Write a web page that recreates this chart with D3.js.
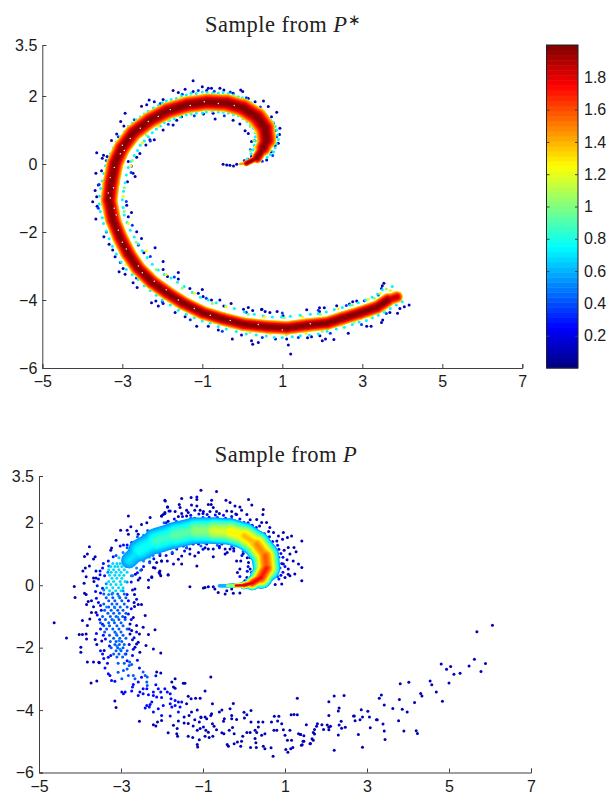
<!DOCTYPE html>
<html>
<head>
<meta charset="utf-8">
<title>Sample from P* and P</title>
<script src="https://cdnjs.cloudflare.com/ajax/libs/d3/7.8.5/d3.min.js"></script>
<style>
    html, body { margin: 0; padding: 0; background: #fff; }
    .tick text { font-family: "Liberation Sans", Arial, sans-serif; font-size: 16px; fill: #1a1a1a; }
    .tick line, .domain { stroke: #404040; }
    .title { font-family: "Liberation Serif", serif; font-size: 22.5px; letter-spacing: 0.5px; fill: #222; text-anchor: middle; }
</style>
</head>
<body>
<svg id="chart" width="608" height="794"></svg>
<script>
'use strict';

const X_TICKS = [-5, -3, -1, 1, 3, 5, 7];
const Y_TICKS = [3.5, 2, 0, -2, -4, -6];
const BAR_TICKS = [0.2, 0.4, 0.6, 0.8, 1, 1.2, 1.4, 1.6, 1.8];
const LEVELS = 64;

// The dense core of each sample is too thick to read dot by dot, so it is drawn
// as a ridge: position, peak density, half width (y units).
const topRidge = [[-.05,0],[.1,.02],[.37,.18],[.52,.47],[.61,.71],[.57,1.06],[.37,1.38],[.02,1.65],[-.38,1.79],[-.88,1.82],[-1.38,1.74],[-1.88,1.56],[-2.31,1.29],[-2.73,.91],[-3.01,.47],[-3.18,.03],[-3.28,-.56],[-3.33,-1.06],[-3.23,-1.65],[-3.06,-2.15],[-2.86,-2.62],[-2.61,-3.06],[-2.26,-3.47],[-1.88,-3.79],[-1.48,-4.09],[-.98,-4.38],[-.48,-4.56],[.02,-4.71],[.62,-4.79],[1.12,-4.82],[1.62,-4.74],[2.12,-4.68],[2.52,-4.53],[2.94,-4.38],[3.37,-4.21],[3.64,-4],[3.87,-3.91]];
const topPeak = [1.5,2,2.05,2.05,2.05,2.05,2.05,2.05,2.05,2.05,2.05,2.05,2.05,2.05,2.05,2.05,2.05,2.05,2.05,2.05,2.05,2.05,2.05,2.05,2.05,2.05,2.05,2.05,2.05,2.05,2.05,2.05,2.05,2.05,2.05,2.05,1.9];
const topWidth = [.03,.05,.12,.2,.27,.3,.29,.27,.26,.25,.25,.25,.25,.25,.25,.25,.25,.25,.23,.23,.23,.22,.22,.21,.21,.2,.2,.2,.2,.2,.2,.2,.2,.2,.2,.2,.14];
const topGaps = [[-3.2,-.1],[-3.3,-.4],[-3.22,-.7],[-3.3,-1],[-3.35,-.85],[-3.2,-1.3],[-3.15,-1.5],[-3.1,-1.95],[-3,-2.3],[-2.9,-2.5],[-2.6,-3],[-2.5,-3.2],[-2.2,-3.45],[-1.9,-3.7],[-1.6,-4],[-1.2,-4.25],[-.8,-4.45],[-.3,-4.6],[.4,-4.72],[1,-4.88],[1.7,-4.7],[-3.05,.3],[-3,.55],[-2.95,.4],[-2.8,.75],[-2.55,1.05],[-2.35,1.25],[-2.1,1.4],[-1.8,1.6],[-1.3,1.72],[-.95,1.83],[-.6,1.78],[-.2,1.72]];

const botRidge = [[-.6,-.02],[-.4,-.02],[-.2,-.01],[0,0],[.2,.07],[.42,.25],[.55,.55],[.52,.94],[.31,1.31],[.01,1.58],[-.34,1.72],[-.75,1.75],[-1.2,1.75],[-1.7,1.6],[-2.15,1.42],[-2.55,1.12],[-2.8,.8]];
const botPeak = [.65,1.2,1.9,1.85,1.85,1.8,1.72,1.6,1.5,1.4,1.3,1.2,1.05,.95,.88,.8,.72];
const botWidth = [.05,.06,.07,.09,.16,.3,.42,.45,.43,.42,.42,.42,.42,.42,.4,.32,.2];

// top panel dots, one array per colour band
const topLevels = [.12, .35, .72, 1, 1.25];
const topDeep = [[-1.23,2.45],[-1,2.27],[-.85,2.23],[-.89,2.16],[-.77,2.23],[-.56,2.23],[-.46,2.18],[-.23,2.08],[-.04,2.18],[.01,2.13],[-1.73,2.16],[-1.6,2.1],[-1.43,2.2],[-1.23,2.13],[-1.98,1.9],[-2.33,1.88],[-2.2,1.83],[-2.39,1.74],[-2.52,1.7],[-2.93,1.49],[-3.04,1.25],[-2.96,1.12],[-3.14,.88],[-3.27,.69],[-3.64,.33],[-3.47,.26],[-3.5,.17],[-3.38,.22],[-3.52,-.2],[-3.66,-.27],[-3.6,-.62],[-3.68,-.78],[-3.64,-.96],[.15,1.93],[.32,1.83],[.53,1.85],[.65,1.69],[.86,1.52],[.73,1.39],[.78,1.2],[.94,1.05],[.82,.98],[.93,.87],[.9,.61],[.82,.54],[.73,.36],[.61,.12],[-.97,1.47],[-.73,1.49],[-.68,1.32],[-1.52,1.39],[-1.64,1.29],[-1.73,1.15],[-1.98,1],[-2.2,.71],[-2.31,.71],[-2.41,.56],[-2.56,.31],[-2.64,.2],[-2.85,.07],[-2.77,-.06],[-2.73,-.27],[-2.68,-.37],[-2.87,-.52],[-.23,1.29],[-.06,1.18],[.07,.98],[.15,.9],[.23,.66],[.32,.51],[.23,.22],[.15,.14],[-.48,-.01],[-.39,-.03],[-.31,-.04],[-.22,-.06],[-.14,-.01],[-3.74,-1.11],[-3.66,-1.62],[-3.63,-1.24],[-3.46,-2.14],[-3.24,-2.53],[-3.33,-2.36],[-3.18,-2.73],[-3.08,-3.17],[-2.93,-3.24],[-2.98,-3.07],[-2.73,-3.49],[-2.63,-3.63],[-2.27,-4.08],[-2.16,-4.03],[-2.1,-4.18],[-1.98,-4.1],[-1.68,-4.37],[-1.43,-4.49],[-1.14,-4.77],[-.85,-4.77],[-.6,-4.88],[-.25,-5.15],[.23,-5.2],[.26,-5.3],[.4,-5.25],[-.02,-5.03],[-2.89,-1.21],[-2.77,-1.43],[-2.85,-1.55],[-2.64,-1.99],[-2.52,-2.19],[-2.18,-2.46],[-2.6,-2.38],[-2.46,-2.61],[-1.98,-2.87],[-1.98,-3.1],[-1.87,-3.31],[-1.6,-3.19],[-1.6,-3.38],[-1.31,-3.66],[-1,-3.69],[-1.1,-3.8],[-.98,-3.9],[-.77,-4],[-.56,-4],[-.28,-4.1],[-.46,-4.18],[.03,-4.27],[.15,-4.22],[.48,-4.28],[.26,-4.31],[.49,-4.27],[.57,-4.34],[.69,-4.37],[.87,-4.34],[1.02,-4.46],[1.61,-4.29],[1.93,-4.23],[2.05,-4.23],[1.93,-4.34],[2.36,-4.17],[2.68,-4.12],[2.76,-4.05],[2.86,-4.03],[3.54,-3.51],[3.5,-3.58],[3.48,-3.66],[3.51,-4.59],[3.48,-4.66],[3.22,-4.77],[3.11,-4.77],[2.65,-4.98],[2.29,-5.16],[2.08,-5.15],[2,-5.2],[1.94,-5.05],[1.73,-5.08],[1.63,-5.11],[1.15,-5.32],[1.21,-5.59],[1.11,-5.15],[.83,-5.15],[3.88,-4.39],[4.17,-4.15],[4.05,-4.2],[3.94,-4.25],[3.69,-4.37]];
const topBlue = [[-1.5,2.05],[-1.1,2.16],[-.7,2.14],[-.3,2.12],[.1,1.95],[.45,1.68],[.72,1.25],[.86,.8],[.76,.25],[.5,.08],[-2.05,1.78],[-2.7,1.3],[-3.1,.8],[-3.4,.1],[-3.58,-.6],[-3.6,-1.3],[-3.4,-2],[-3.05,-2.9],[-2.65,-3.35],[-2,-4.05],[-1.3,-4.58],[-.5,-4.92],[.5,-5.1],[1.4,-5.1],[2.2,-4.98],[2.98,-4.72],[3.6,-4.4],[-.45,1.42],[-1.2,1.42],[-1.85,1.17],[-2.3,.68],[-2.78,-.25],[-2.9,-1.1],[-2.75,-1.8],[-2.3,-2.72],[-1.7,-3.32],[-.9,-3.95],[.1,-4.36],[1,-4.38],[1.9,-4.3],[2.6,-4.16],[3.05,-4.02],[3.4,-3.85],[.3,.7],[.2,.42],[.05,.1]];
const topCyan = [[-.88,2.1],[-.6,2.08],[-.35,2.07],[-.1,1.98],[.12,1.88],[.3,1.7],[.52,1.5],[.7,1.3],[.82,1.1],[.88,.85],[.85,.6],[.78,.35],[.62,.2],[-1.15,2.07],[-1.4,2.03],[-1.65,1.93],[-1.9,1.85],[-2.1,1.72],[-2.35,1.55],[-2.55,1.38],[-2.75,1.2],[-2.95,.95],[-3.15,.65],[-3.3,.3],[-3.42,-.05],[-3.5,-.5],[-3.57,-.95],[-3.55,-1.4],[-3.47,-1.75],[-3.33,-2.2],[-3.15,-2.65],[-2.9,-3.1],[-2.6,-3.4],[-2.3,-3.72],[-2,-4],[-1.6,-4.3],[-1.2,-4.52],[-.8,-4.68],[-.4,-4.85],[.1,-5],[.6,-5.06],[1,-5.1],[1.45,-5.05],[1.9,-5],[2.35,-4.85],[2.75,-4.72],[3.1,-4.6],[3.4,-4.45],[3.7,-4.25],[4,-4.05],[-.9,1.53],[-.6,1.53],[-.35,1.5],[-.1,1.42],[.12,1.25],[.28,1.05],[.33,.8],[.3,.55],[.22,.3],[.12,.15],[-1.15,1.5],[-1.4,1.45],[-1.7,1.33],[-1.95,1.22],[-2.15,1.03],[-2.35,.8],[-2.55,.55],[-2.7,.25],[-2.85,-.1],[-2.93,-.55],[-3,-1.05],[-2.95,-1.5],[-2.8,-1.95],[-2.6,-2.35],[-2.38,-2.75],[-2.1,-3.12],[-1.78,-3.35],[-1.45,-3.6],[-1.05,-3.92],[-.65,-4.08],[-.2,-4.25],[.3,-4.42],[.75,-4.5],[1.2,-4.48],[1.7,-4.42],[2.1,-4.35],[2.5,-4.22],[2.9,-4.08],[3.25,-3.92],[3.5,-3.7],[3.75,-3.6],
[-.75,2.07],[-.48,2.1],[-.22,2.03],[0,1.95],[.22,1.8],[.4,1.62],[.62,1.42],[.78,1.22],[.86,1],[.9,.72],[.82,.48],[.7,.28],[-1,2.12],[-1.28,2.08],[-1.52,2],[-1.78,1.9],[-2,1.8],[-2.22,1.65],[-2.45,1.47],[-2.65,1.3],[-2.85,1.1],[-3.05,.8],[-3.22,.48],[-3.36,.12],[-3.46,-.28],[-3.54,-.72],[-3.58,-1.18],[-3.5,-1.58],[-3.4,-1.98],[-3.25,-2.42],[-3.03,-2.88],[-2.75,-3.25],[-2.45,-3.58],[-2.15,-3.86],[-1.8,-4.15],[-1.4,-4.42],[-1,-4.62],[-.6,-4.78],[-.15,-4.93],[.35,-5.03],[.8,-5.1],[1.25,-5.08],[1.68,-5.04],[2.12,-4.92],[2.55,-4.8],[2.92,-4.65],[3.25,-4.52],[3.55,-4.35],[3.85,-4.15],[-.75,1.55],[-.48,1.52],[-.22,1.45],[.02,1.33],[.2,1.15],[.33,.92],[.33,.68],[.27,.42],[-1,1.5],[-1.28,1.47],[-1.55,1.38],[-1.82,1.28],[-2.05,1.12],[-2.25,.92],[-2.45,.68],[-2.62,.4],[-2.78,.08],[-2.9,-.32],[-2.97,-.8],[-2.98,-1.28],[-2.88,-1.72],[-2.7,-2.15],[-2.5,-2.55],[-2.25,-2.95],[-1.95,-3.25],[-1.62,-3.48],[-1.25,-3.78],[-.85,-4],[-.42,-4.18],[.05,-4.35],[.52,-4.47],[.98,-4.5],[1.45,-4.45],[1.9,-4.4],[2.3,-4.28],[2.7,-4.15],[3.08,-4],[3.38,-3.82]];
const topGreen = [[-.7,2.05],[-.2,1.99],[.2,1.75],[.6,1.32],[.78,.85],[.7,.4],[-1.3,2],[-1.8,1.82],[-2.25,1.52],[-2.65,1.2],[-3.05,.72],[-3.28,.15],[-3.45,-.55],[-3.5,-1.2],[-3.3,-2],[-3.05,-2.6],[-2.75,-3.15],[-2.2,-3.68],[-1.55,-4.25],[-.7,-4.65],[.2,-4.95],[1.1,-5.03],[2,-4.92],[2.8,-4.65],[3.55,-4.3],[3.95,-4.02],[-.75,1.58],[-.25,1.5],[.2,1.1],[.28,.7],[.2,.38],[-1.3,1.5],[-1.85,1.28],[-2.4,.85],[-2.75,.1],[-2.95,-.7],[-2.95,-1.4],[-2.65,-2.3],[-2.15,-3.1],[-1.5,-3.65],[-.75,-4.1],[.15,-4.42],[1.05,-4.52],[1.95,-4.42],[2.75,-4.15],[3.3,-3.95],[3.6,-3.68]];
const topYellow = [[-1,2.04],[-.45,2.02],[0,1.88],[.42,1.5],[.72,1],[.72,.55],[-1.55,1.95],[-2.05,1.68],[-2.5,1.3],[-2.9,.9],[-3.2,.4],[-3.36,-.25],[-3.46,-.9],[-3.4,-1.65],[-3.18,-2.35],[-2.9,-2.95],[-2.45,-3.5],[-1.9,-3.98],[-1.2,-4.46],[-.3,-4.8],[.7,-4.99],[1.6,-4.98],[2.5,-4.76],[3.2,-4.5],[3.8,-3.78],[3.7,-3.72],[-1,1.58],[-.5,1.56],[.05,1.33],[.33,.95],[.32,.5],[-1.6,1.42],[-2.1,1.12],[-2.5,.62],[-2.78,-.05],[-2.98,-.95],[-2.85,-1.75],[-2.4,-2.55],[-1.9,-3.25],[-1.2,-3.8],[-.4,-4.2],[.55,-4.5],[1.5,-4.5],[2.4,-4.25],[3.15,-3.98],[3.45,-3.8]];
const topDots = [topDeep, topBlue, topCyan, topGreen, topYellow];

// bottom panel dots, one array per colour band
const botLevels = [.12, .28, .42, .52, .66, .82];
const botDeep = [[6.06,-1.28],[5.68,-1.49],[5.62,-2.37],[5.89,-2.51],[5.78,-2.76],[5.49,-2.59],[5.27,-2.82],[5.12,-2.85],[5.04,-2.6],[4.94,-2.69],[4.81,-2.52],[5,-3.13],[4.54,-3.07],[4.58,-3.19],[4.69,-3.42],[4.84,-3.72],[4.31,-3.47],[4.34,-3.55],[4.16,-3.76],[4.02,-3.11],[3.81,-3.16],[3.79,-3.66],[3.35,-3.52],[3.3,-3.62],[3.42,-3.84],[3.63,-3.95],[3.86,-3.97],[3.98,-4.06],[3.77,-4.34],[3.39,-4.45],[3.23,-4.31],[3.25,-4.31],[3.06,-4.22],[3.02,-4.04],[2.86,-3.99],[2.69,-4.19],[2.67,-4.19],[2.71,-4.34],[2.89,-4.22],[2.83,-4.31],[3.08,-4.57],[3.42,-4.67],[3.9,-4.67],[4.2,-4.66],[4.23,-4.75],[3.44,-4.94],[2.89,-5.19],[2.79,-4.78],[2.2,-5.29],[2.3,-4.8],[2.47,-4.55],[2.38,-4.58],[2.32,-4.48],[2.37,-4.36],[2.3,-4.03],[2.32,-3.93],[2.44,-3.53],[2.2,-3.55],[2.07,-3.73],[2.07,-4.17],[1.9,-4.47],[2.03,-4.48],[2.11,-4.52],[2.07,-4.55],[2.07,-4.63],[1.94,-4.62],[1.79,-4.44],[1.77,-4.52],[1.72,-4.62],[1.52,-4.47],[1.69,-4.72],[1.72,-4.77],[1.46,-4.82],[1.38,-4.78],[1.66,-4.92],[1.69,-4.97],[1.62,-5.07],[1.46,-5],[1.42,-5.11],
[1.3,-3.62],[1.15,-4.15],[1.22,-4.14],[1.3,-4.15],[.74,-4.2],[.85,-4.2],[.67,-4.38],[.82,-4.35],[.92,-4.44],[.46,-4.38],[.35,-4.38],[.17,-4.38],[.17,-4.01],[0,-4.07],[.07,-4.15],[.01,-4.25],[-.26,-3.79],[-.34,-3.96],[-.54,-4],[-.6,-4.06],[-.3,-4.17],[-.18,-4.3],[-.3,-4.28],[-.48,-4.28],[-.5,-4.36],[-.77,-3.8],[-.79,-4.12],[-.81,-4.17],[-.95,-4.22],[-1.05,-4.22],[-1.14,-4],[-1.28,-4.06],[-.81,-2.94],[-.95,-3.39],[-1.07,-3.62],[-1.18,-3.62],[-1.29,-3.64],[-1.36,-3.56],[-1.4,-3.8],[-1.48,-3.14],[-1.44,-3.14],[-1.68,-3],[-1.76,-3.1],[-1.72,-3.26],[-1.68,-3.3],[-2.13,-2.78],[-2.03,-2.81],[-2.55,-4.36],[-2.21,-4.47],[-2.15,-4.51],[-2.11,-4.38],[-2.01,-4.33],[-1.85,-4.73],[-1.63,-4.59],[-1.64,-4.76],[-1.62,-4.84],[-1.72,-4.49],[-1.6,-4.35],[-1.46,-4.41],[-1.36,-4.43],[-1.46,-4.22],[-1.34,-4.17],[-1.36,-4.84],[-1.25,-4.88],[-1.09,-4.95],[-1.14,-5.1],[-1.13,-5.18],[-1.24,-4.51],[-1.14,-4.65],[-1.07,-4.59],[-.99,-4.54],[-.93,-4.65],[-.87,-4.71],[-.76,-4.84],[-.85,-4.88],[-.95,-4.84],[-1.05,-4.24],[-1.2,-4.31],[-1.09,-4.38],[-.91,-4.28],[-.77,-4.44],[-.73,-4.52],[-.67,-4.63],[-.54,-4.73],[-.49,-4.76],[-.36,-4.65],[-.28,-4.56],[-.24,-4.76],[-.41,-5.1],[-.38,-5.16],[-.24,-5.08],[-.16,-5.02],[-.06,-5],[-.03,-4.84],[-.08,-5.16],[.07,-4.72],[.15,-4.72],[.27,-4.65],[.35,-4.54],[.31,-4.72],[.43,-4.81],[.51,-4.76],[.27,-4.91],[.29,-5.05],[.16,-5.2],[.3,-5.2],[.47,-5.16],[.51,-5.24],[.66,-5.21],[.71,-5.48],[.73,-4.65],[.8,-4.65],[.96,-4.63],[1.12,-4.65],[1,-4.81],[1.06,-4.97],[1.16,-4.97],[1.02,-5.26],[1.14,-5.24],[1.19,-5.2],[1.07,-5.35],[1.33,-4.76],[1.38,-4.78],[1.44,-5],[1.4,-5.13],[1.61,-5.08],
[-3.73,-3.13],[-3.59,-3.07],[-3.54,-2.47],[-3.15,-3.71],[-3.12,-3.92],[-4.63,-1.2],[-4.33,-1.69],[-4.14,-.04],[-4.12,-.39],[-3.98,-1.99],[-3.98,-2.15],[-4.02,-1.58],[-3.94,-1.58],[-3.94,-1.13],[-3.82,-1.29],[-3.85,-1.56],[-3.77,1.23],[-3.89,.92],[-3.82,1],[-3.63,.91],[-3.67,.84],[-3.93,.46],[-3.87,.55],[-3.77,.62],[-3.85,.27],[-3.61,.46],[-3.67,.23],[-3.61,.23],[-3.66,.12],[-3.9,.06],[-3.89,-.26],[-3.85,-.3],[-3.72,-.5],[-3.8,-.52],[-3.84,-.62],[-3.67,-.69],[-3.76,-1.08],[-3.72,-.87],[-3.61,-.87],[-3.84,-1.72],[-3.63,-1.74],[-3.59,-1.9],[-3.47,-1.79],[-3.41,-2.09],[-3.82,-2.46],[-3.67,-2.46],[-3.53,-2.48],[-2.66,-.12],[-2.67,-.3],[-2.33,-.07],[-2.54,.23],[-2.58,.17],[-2.33,.17],[-2.25,.27],[-2.05,.46],[-2.05,.36],[-1.85,.34],[-1.87,.78],[-2.01,.78],[-2.17,.55],[-2.68,-.55],[-2.67,-.68],[-2.58,-.62],[-2.5,-.62],[-2.41,-.97],[-2.17,-1.43],[-2.33,-1.58],[-2.39,-1.93],[-2.21,-2.04],[-2.03,-2.17],[-2.54,-2.15],[-2.66,-1.99],[-2.62,-1.88],[-2.58,-1.83],[-2.55,-1.56],[-2.46,-1.35],[-2.62,-1.29],[-2.78,-1.24],[-2.74,-1.45],[-2.78,-1.56],[-2.7,-1.03],[-2.82,2.22],[-3.01,1.76],[-3.12,1.44],[-3.23,1.19],[-3.25,1.12],[-2.82,1.63],[-2.85,1.76],[-2.76,1.87],[-2.62,1.74],[-2.58,1.63],[-2.5,1.95],[-2.37,2],[-2.29,2.17],[-2.01,2.22],[-1.93,2.3],[-1.92,2.7],[-1.86,2.51],[-1.83,2.38],
[-1.05,3.04],[-.67,3],[-1.52,2.78],[-1.29,2.81],[-1.15,2.75],[-1.15,2.83],[-1.93,2.72],[-1.87,2.51],[-1.58,2.59],[-1.56,2.49],[.11,2.75],[-.44,2.72],[-.34,2.65],[-.79,2.72],[-.87,2.59],[-.8,2.59],[-1.15,2.54],[-1.28,2.57],[-1.4,2.4],[-1.36,2.33],[-1.8,2.38],[-1.68,2.36],[-1.97,2.27],[-2.01,2.22],[-1.93,2.33],[-1.52,2.3],[-1.2,2.4],[-1.07,2.4],[-.99,2.36],[-.83,2.36],[-.67,2.36],[-.75,2.49],[-.42,2.38],[-.3,2.36],[-.22,2.54],[-.1,2.51],[-.06,2.4],[.19,2.57],[.07,2.27],[-.18,2.27],[.47,2.43],[.46,2.27],[.31,2.11],[.43,2.01],[.55,2.01],[.63,1.85],[.72,1.69],[.84,1.58],[.96,1.69],[1.16,1.58],[1.06,1.53],[.94,1.47],[1.41,1.42],[1.08,1.21],[1.22,1.21],[1.27,1.07],[1.12,1],[1.2,.78],[1.41,.57],[1.33,.68],[1.24,.36],[1.41,.14],[1.12,.3],[1.08,.52],[.96,.68],[1,.25],[.92,.04],[.76,.02],[.55,.02],[-1.32,-.05],[-.99,-.09],[-.95,-.07],[-.87,-.05],[-.75,-.05],[-.71,-.12],[-.63,-.23],[-.46,-.28],[-.42,-.18],[-.26,-.26],[-.1,-.25],[-.3,-.12],[.15,.52],[.07,.25],[.02,.14],[-.1,.52],[-.16,.41],[-.08,.78],[-.18,.78],[-.34,1.16],[-.46,1],[-.41,1.05],[-.75,.91],[-.87,1.16],[-.75,1.16],[-1.15,.62],[-1.11,1.05],[-1.2,.94],[-1.32,1],[-1.52,.94],[-1.6,.83],[-1.52,.68],[-1.72,.68],[-1.85,.33],[-2.03,.3],[-2.07,.41],[-2.01,.78],[-2.13,.73],[-2.21,.57],[-2.25,.25],[-.46,1.16],[-.54,1.32],[.15,.89],[.11,.73],[-1.11,1.32],[-1.32,1.16],[-1.64,1.16],[-1.48,1.26],[-1.24,1.32],[-.91,1.32],
[-1.85,2.05],[-1.6,2.2],[-1.4,2.22],[-1,2.3],[-.6,2.3],[-.2,2.28],[.15,2.1],[.38,1.9],[.6,1.72],[.8,1.42],[.98,1.12],[1.05,.82],[1.08,.35],[-.95,1.2],[-.6,1.25],[-.25,1.18],[-.02,1.02],[.08,.88],[-1.4,1.2],[-1.75,1.02],[-2.05,.95],[-2.3,.75],[-2.5,.5],[-2.65,.35]];
const botBlue = [[-3.33,-2.5],[-3.39,-2.65],[-3.31,-2.84],[-3.27,-2.89],[-3.23,-3.05],[-3.15,-3.08],[-2.98,-3.42],[-2.94,-3.48],[-2.9,-3.42],[-2.74,-3.39],[-2.7,-3.18],[-2.72,-3.26],[-2.58,-3.1],[-2.37,-3.32],[-2.46,-3.32],[-2.54,-3.42],[-2.46,-3.48],[-2.58,-3.53],[-2.33,-3.51],[-2.21,-3.42],[-2.21,-3.53],[-2.13,-3.58],[-2.03,-3.42],[-2.01,-3.6],[-2.15,-3.19],[-2.09,-3.32],[-1.93,-3.32],[-1.87,-3.42],[-1.8,-3.48],[-1.78,-3.64],[-1.8,-3.8],[-1.76,-3.9],[-1.68,-3.69],[-1.6,-3.74],[-1.52,-3.74],[-1.68,-3.85],[-1.56,-3.9],[-1.6,-4.06],[-1.8,-4.19],[-1.97,-3.85],[-2.09,-3.96],[-2.21,-4.06],[-2.01,-4.17],[-2.25,-3.74],[-2.29,-3.82],[-2.37,-3.85],[-2.41,-3.93],[-2.31,-3.9],[-2.82,-.92],[-2.9,-1.03],[-2.85,-.3],[-2.75,-.75],[-2.8,-1.4],[-2.72,-1.75],[-2.7,-2.05],[-2.88,-2.2],[-3.19,.91],[-3.31,.78],[-3.43,.7],[-3.51,.46],[-3.51,.34],[-3.58,-.02],[-3.02,1.26],[-2.94,1.29],[-2.85,1.29],[-2.74,1.37],[-2.17,1.79],[-3.5,-.25],[-3.55,-.55],[-3.48,-.8],[-3.52,-1.1],[-3.5,-1.4],[-3.43,-1.6],[-3.28,-1.95],[-3.25,-2.25],[-3.31,-2.31],[-1.9,2],[-1.7,2.12],[-1.5,2.2],[-1.3,2.24],[-1.1,2.28],[-.9,2.27],[-.7,2.25],[-.5,2.24],[-.3,2.2],[-.1,2.12],[.1,2],[.3,1.85],[.5,1.65],[.7,1.4],[.85,1.15],[.95,.9],[1,.6],[.95,.42],[.85,.2],[.35,.05],[.1,.6],[.08,.45],[-.05,.95],[-.25,1.1],[-.6,1.2],[-1,1.15],[-1.45,1.1],[-1.9,.95],[-2.2,.85],[-2.45,.6],[-2.6,.4],[-1.65,2.02],[-1.2,2.15],[-.85,2.18],[-.45,2.15],[.2,1.92],[.62,1.55],[.82,1.28],[.9,1.02],[.92,.7],[.9,.32],[-.1,.28],[-2.35,.95],[-2.7,.72],[-3.55,.2],[-3.45,.55],[-3.4,.3],[-3.62,-.2],[-3.45,-.1],[-3.6,-.42],[-3.5,-.65],[-3.58,-.95],[-3.45,-1.25],[-3.6,-1.55],[-3.38,-1.72],[-3.5,-2.1],[-2.82,-.5],[-2.72,-.15],[-2.75,.1],[-2.62,-.45],[-2.75,-1.1],[-2.62,-1.5],[-2.68,-1.68],[-2.8,-1.9],[-2.72,-2.25],[-2.6,-2.4],[-2.85,-2.42],[-3.42,-2.35],[-3.45,-2.2],[-2.15,-2.9],[-2.55,-2.65],[-2.5,-2.95]];
const botLight = [[-3.07,-2.5],[-2.92,-2.5],[-2.8,-2.57],[-2.85,-2.68],[-2.79,-2.46],[-2.74,-2.54],[-2.94,-2.73],[-3.07,-2.79],[-2.98,-3],[-2.82,-2.89],[-2.7,-2.89],[-2.66,-3],[-2.46,-2.78],[-2.41,-2.89],[-2.36,-2.94],[-2.37,-3.1],[-2.36,-3.21],[-1.95,2],[-1.65,2.05],[-1.3,2.15],[-1,2.18],[-.65,2.18],[-.3,2.12],[0,2.02],[.3,1.78],[.55,1.5],[.75,1.2],[.85,.9],[.88,.55],[.82,.28],[.62,.08],[.28,.72],[.18,.42],[.18,.95],[-.02,1.08],[-.3,1.24],[-.65,1.28],[-1.05,1.26],[-1.4,1.2],[-1.75,1.06],[-2.05,1],[-2.3,.72],[-2.52,.48],[-2.72,.3],[-2.35,1.75],[-2.6,1.55],[-2.85,1.2],[-3.12,.95],[-3.3,.62],
[-3.42,-.28],[-3.22,-.28],[-3.08,-.28],[-2.92,-.28],[-3.36,-.4],[-3.2,-.4],[-3.03,-.4],[-2.88,-.4],[-3.3,-.5],[-3.15,-.5],[-2.98,-.5],[-3.42,-.6],[-3.22,-.6],[-3.1,-.6],[-2.92,-.6],[-3.3,-.7],[-3.16,-.7],[-3.02,-.7],[-2.85,-.7],[-3.4,-.8],[-3.24,-.8],[-3.08,-.8],[-2.95,-.8],[-3.32,-.9],[-3.18,-.9],[-3.04,-.9],[-2.88,-.9],[-3.45,-1],[-3.26,-1],[-3.12,-1],[-2.96,-1],[-3.38,-1.1],[-3.22,-1.1],[-3.05,-1.1],[-2.9,-1.1],[-3.5,-1.2],[-3.3,-1.2],[-3.16,-1.2],[-3,-1.2],[-3.42,-1.3],[-3.28,-1.3],[-3.1,-1.3],[-2.95,-1.3],[-3.35,-1.4],[-3.2,-1.4],[-3.05,-1.4],[-2.85,-1.4],[-3.4,-1.5],[-3.15,-1.5],[-3,-1.5],[-3.28,-1.6],[-3.1,-1.6],[-2.95,-1.6],[-3.18,-1.7],[-3.03,-1.7],[-2.88,-1.7],[-3.26,-1.8],[-3.12,-1.8],[-2.98,-1.8],[-3.15,-1.9],[-3.04,-1.9],[-2.92,-1.9],[-3.24,-2],[-3.08,-2],[-2.95,-2],[-3.12,-2.1],[-3,-2.1],[-2.85,-2.1],[-3.18,-2.2],[-3.05,-2.2],[-2.9,-2.2],[-3.1,-2.3],[-2.96,-2.3]];
const botAqua = [[-3.32,.42],[-3.36,.05],[-3.42,-.15],[-3.2,-.25],[-3.05,-.35],[-3.15,-.72],[-3.08,-1.02],[-3.18,-1.12],[-3.12,-1.55],[-3.05,-1.78],[-3.02,-2.05],[-3.1,-1.95],[-3.35,-.7],[-3.3,-.3],[-2.95,-.18],[-2.85,.1],[-2.75,.3],[-2.62,.55],[-2.45,.78],[-2.22,.95],[-1.95,1.12],[-1.65,1.2],[-1.3,1.35],[-.95,1.35],[-.55,1.35],[-.2,1.3],[.05,1.15],[.22,.85],[.28,.5],[.2,.18],[.65,.25],[.8,.6],[.78,1],[.6,1.3],[.38,1.62],[.08,1.88],[-.3,2],[-.7,2.08],[-1.1,2.08],[-1.5,2],[-1.85,1.9],[-2.15,1.78],[-2.45,1.6],[-2.7,1.38],[-2.95,1.05]];
const botCyan = [[-3.2,.7],[-3.1,.7],[-3.02,.7],[-2.95,.7],[-3.25,.6],[-3.15,.6],[-3.08,.6],[-2.98,.6],[-2.88,.6],[-3.3,.5],[-3.18,.5],[-3.05,.5],[-2.92,.5],[-3.24,.42],[-3.12,.42],[-3,.42],[-2.85,.42],[-3.28,.32],[-3.15,.32],[-3.04,.32],[-2.93,.32],[-3.22,.22],[-3.1,.22],[-2.98,.22],[-3.3,.12],[-3.18,.12],[-3.02,.12],[-2.9,.12],[-3.25,.02],[-3.12,.02],[-3,.02],[-3.35,-.08],[-3.2,-.08],[-3.06,-.08],[-2.95,-.08],[-3.28,-.18],[-3.13,-.18],[-3,-.18],[-3.05,.88],[-2.9,.88],[-2.75,.75],[-2.6,.95],[-2.45,1.4],[-2.2,1.55],[-2.5,1],[-2.3,.9],[-2.1,1.05],[-1.8,1.18],[-1.55,1.28],[-2.8,1.05],[-2.65,1.28],[-1.95,1.78],[-1.65,1.92],[-1.3,1.98],[-.95,2.02]];
const botGreen = [[-2.45,1.2],[-2.2,1.35],[-1.95,1.5],[-1.7,1.65],[-1.4,1.75],[-1.15,1.82],[-2.3,1.15],[-2.6,1.05],[-2,1.25],[-1.8,1.38],[-1.55,1.5],[-1.25,1.55],[-2.1,1.55],[-2.62,1.2],[-2.4,1.35],[-2.78,.9],[-2.85,.75],[-2.7,.9]];
const botDots = [botDeep, botBlue, botLight, botAqua, botCyan, botGreen];

// MATLAB jet with 64 steps over the colour bar range
function jet(v) {
    let i = Math.min(LEVELS - 1, Math.max(0, Math.floor(v / 2 * LEVELS)));
    let t = (i + 0.5) / LEVELS * 4;
    let c = function (o) { return Math.round(255 * Math.max(0, Math.min(1, Math.min(t - o + 1.5, -t + o + 1.5)))); };
    return "rgb(" + c(3) + "," + c(2) + "," + c(1) + ")";
}

const svg = d3.select("#chart");

function drawPanel(box, title, ridge, peak, width, baseLevel, levels, dots, gaps) {
    let x = d3.scaleLinear().domain([-5, 7]).range([box.left, box.right]);
    let y = d3.scaleLinear().domain([-6, 3.5]).range([box.bottom, box.top]);
    let g = svg.append("g");
    let unit = Math.abs(y(0) - y(1));

    let addDots = function (list, r, fill) {
        g.append("g").selectAll("circle")
            .data(list)
            .enter()
            .append("circle")
            .attr("cx", function (d) { return x(d[0]); })
            .attr("cy", function (d) { return y(d[1]); })
            .attr("r", r)
            .attr("fill", fill);
    };

    dots.forEach(function (list, k) { addDots(list, 1.5, jet(levels[k])); });

    // ridge layers, low levels first so the higher ones sit on top
    d3.range(baseLevel, 2, 2 / LEVELS).forEach(function (level) {
        d3.range(ridge.length - 1).forEach(function (i) {
            let p = Math.min(peak[i], peak[i + 1]);
            if (p <= level) return;
            let w = (width[i] + width[i + 1]) / 2 * unit * Math.pow((p - level) / (p - baseLevel), 0.6);
            g.append("line")
                .attr("x1", x(ridge[i][0])).attr("y1", y(ridge[i][1]))
                .attr("x2", x(ridge[i + 1][0])).attr("y2", y(ridge[i + 1][1]))
                .attr("stroke", jet(level))
                .attr("stroke-width", 2 * w)
                .attr("stroke-linecap", "round");
        });
    });
    addDots(gaps, 0.7, "#fff");

    let fmt = function (d) { return String(d).replace("-", "\u2212"); };
    svg.append("g")
        .attr("transform", "translate(0," + box.bottom + ")")
        .call(d3.axisBottom(x).tickValues(X_TICKS).tickSize(-4).tickPadding(8).tickFormat(fmt));
    svg.append("g")
        .attr("transform", "translate(" + box.left + ",0)")
        .call(d3.axisLeft(y).tickValues(Y_TICKS).tickSize(-4).tickPadding(5).tickFormat(fmt));

    let t = svg.append("text").attr("class", "title").attr("x", box.titleX).attr("y", box.titleY);
    t.append("tspan").text("Sample from ");
    t.append("tspan").attr("font-style", "italic").text("P");
    if (title) t.append("tspan").attr("dy", -7).attr("font-size", 15).text(title);
}

drawPanel({ left: 42.3, right: 522.3, top: 45, bottom: 368, titleX: 283, titleY: 32 }, "\u2217",
    topRidge, topPeak, topWidth, 1.3, topLevels, topDots, topGaps);
drawPanel({ left: 39, right: 531, top: 476, bottom: 772.5, titleX: 286, titleY: 462 }, "",
    botRidge, botPeak, botWidth, .55, botLevels, botDots, []);

// colour bar
const barY = d3.scaleLinear().domain([0, 2]).range([368, 45]);
const barX = [546.5, 578];
svg.append("g").selectAll("rect")
    .data(d3.range(LEVELS))
    .enter()
    .append("rect")
    .attr("x", barX[0])
    .attr("width", barX[1] - barX[0])
    .attr("y", function (d) { return barY((d + 1) * 2 / LEVELS); })
    .attr("height", function () { return barY(0) - barY(2 / LEVELS) + 0.5; })
    .attr("fill", function (d) { return jet((d + 0.5) * 2 / LEVELS); });
svg.append("rect")
    .attr("x", barX[0]).attr("y", 45)
    .attr("width", barX[1] - barX[0]).attr("height", 323)
    .attr("fill", "none").attr("stroke", "#222");
svg.append("g")
    .attr("transform", "translate(" + barX[1] + ",0)")
    .call(d3.axisRight(barY).tickValues(BAR_TICKS).tickSize(-3).tickPadding(6).tickFormat(String))
    .call(function (a) { a.select(".domain").remove(); });
svg.append("g")
    .attr("transform", "translate(" + barX[0] + ",0)")
    .call(d3.axisLeft(barY).tickValues(BAR_TICKS).tickSize(-3).tickFormat(""))
    .call(function (a) { a.select(".domain").remove(); });
</script>
</body>
</html>
